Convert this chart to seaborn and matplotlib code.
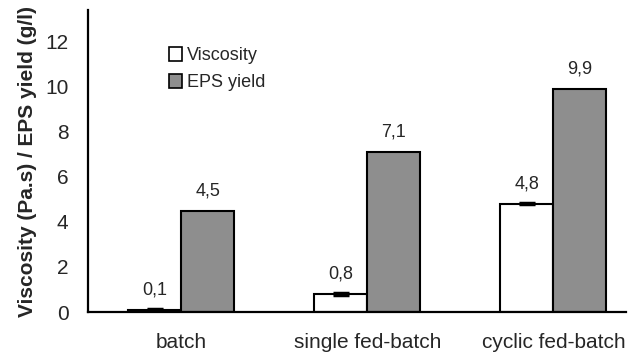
import matplotlib
matplotlib.use("Agg")
import matplotlib.pyplot as plt
import seaborn as sns
import pandas as pd
from matplotlib.patches import Patch

processes = ["batch", "single fed-batch", "cyclic fed-batch"]
viscosity = [0.1, 0.8, 4.8]
viscosity_err = [0.02, 0.06, 0.02]
eps_yield = [4.5, 7.1, 9.9]
series_names = ["Viscosity", "EPS yield"]
yticks = [0, 2, 4, 6, 8, 10, 12]

df = pd.DataFrame({
    "process": processes * 2,
    "value": viscosity + eps_yield,
    "measure": [series_names[0]] * 3 + [series_names[1]] * 3,
})

sns.set_style("white")
plt.rcParams["font.family"] = ["Liberation Sans", "DejaVu Sans"]

fig = plt.figure(figsize=(6.3, 3.52), dpi=100)
ax = fig.add_axes([0.1397, 0.1136, 0.854, 0.858])

sns.barplot(data=df, x="process", y="value", hue="measure",
            palette=["white", "#8e8e8e"], edgecolor="black", linewidth=1.5,
            width=0.57, gap=0, ax=ax, legend=False, errorbar=None)

# error bars on viscosity
xs = [i - 0.1425 for i in range(len(processes))]
ax.errorbar(xs, viscosity, yerr=viscosity_err, fmt="none", ecolor="black",
            elinewidth=2.5, capsize=6, capthick=2.5, zorder=6)

# value labels
for i in range(len(processes)):
    for off, v in ((-0.1425, viscosity[i]), (0.1425, eps_yield[i])):
        ax.annotate(f"{v:.1f}".replace(".", ","), (i + off, v),
                    xytext=(0, 8), textcoords="offset points",
                    ha="center", va="bottom", fontsize=13)

ax.set_ylim(0, 13.4)
ax.set_xlim(-0.5, 2.39)
ax.set_yticks(yticks)
ax.set_yticklabels([str(t) for t in yticks])
ax.tick_params(axis="both", length=0, labelsize=15)
ax.tick_params(axis="y", pad=14)
ax.tick_params(axis="x", pad=15)
ax.set_xlabel("")
ax.set_ylabel("Viscosity (Pa.s) / EPS yield (g/l)", fontsize=15,
              fontweight="bold", labelpad=6)

for s in ["top", "right"]:
    ax.spines[s].set_visible(False)
for s in ["left", "bottom"]:
    ax.spines[s].set_linewidth(1.6)
    ax.spines[s].set_color("black")

handles = [Patch(facecolor="white", edgecolor="black", linewidth=1.2),
           Patch(facecolor="#8e8e8e", edgecolor="black", linewidth=1.2)]
ax.legend(handles, series_names, loc="upper left", bbox_to_anchor=(0.12, 0.93),
          frameon=False, fontsize=13, handlelength=0.75, handleheight=0.75,
          handletextpad=0.25, labelspacing=0.55)

fig.savefig("out.png", dpi=100)
